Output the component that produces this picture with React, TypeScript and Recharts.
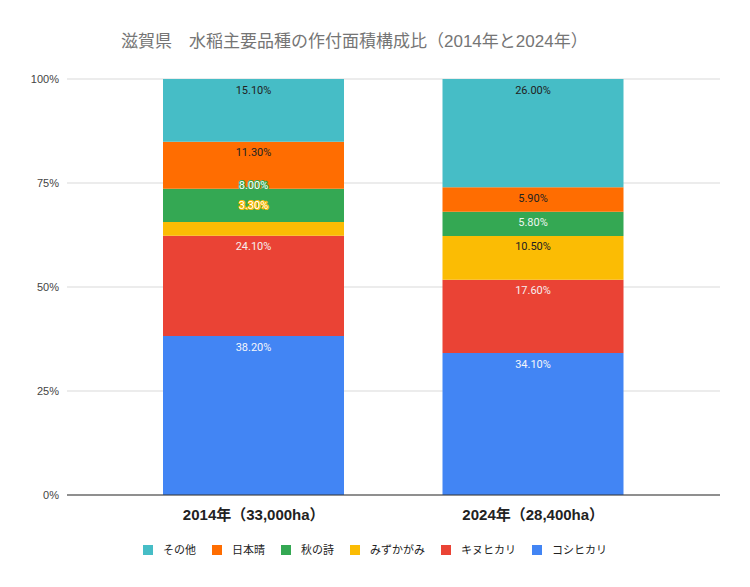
import React from 'react';
import { BarChart, Bar, XAxis, YAxis, CartesianGrid, LabelList } from 'recharts';

// 作付面積の構成比（%）
const years = ['2014年（33,000ha）', '2024年（28,400ha）'];
const koshihikari = [38.2, 34.1];
const kinuhikari = [24.1, 17.6];
const mizukagami = [3.3, 10.5];
const akinouta = [8.0, 5.8];
const nihonbare = [11.3, 5.9];
const sonota = [15.1, 26.0];
const yTicks = [0, 0.25, 0.5, 0.75, 1];

// stacked bottom -> top
const series = [
  { key: 'koshihikari', name: 'コシヒカリ', values: koshihikari, color: '#4285F4', text: '#f4f6fb' },
  { key: 'kinuhikari', name: 'キヌヒカリ', values: kinuhikari, color: '#EA4335', text: '#f6eeee' },
  { key: 'mizukagami', name: 'みずかがみ', values: mizukagami, color: '#FBBC04', text: '#222222' },
  { key: 'akinouta', name: '秋の詩', values: akinouta, color: '#34A853', text: '#eef6ef' },
  { key: 'nihonbare', name: '日本晴', values: nihonbare, color: '#FF6D01', text: '#222222' },
  { key: 'sonota', name: 'その他', values: sonota, color: '#46BDC6', text: '#222222' },
];

const data = years.map((year, i) => {
  const row: Record<string, string | number> = { year };
  series.forEach(s => {
    row[s.key] = s.values[i];
  });
  return row;
});

const FONT = '"Liberation Sans", Arial, "Noto Sans CJK JP", sans-serif';

// label placement like Sheets: near the top of each segment, pushed up when crowded
const labelPositions = (col: number, k: number, base: number) => {
  const total = series.reduce((a, s) => a + s.values[col], 0);
  let cum = 0;
  let prev: number | null = null;
  return series.map(s => {
    const frac = s.values[col] / total;
    cum += frac;
    const top = base - cum * k;
    const h = frac * k;
    let pos = h < 18 ? top - 17 : top + 11;
    if (prev !== null) pos = Math.min(pos, prev - 20);
    prev = pos;
    return { pos, shifted: Math.abs(pos - (top + 11)) > 0.5 };
  });
};

const makeLabel = (si: number) => (props: any) => {
  const vb = props.viewBox || props;
  const { x, y, width, height } = vb;
  const col = props.index;
  if (col == null || height == null) return null;
  const s = series[si];
  const total = series.reduce((a, t) => a + t.values[col], 0);
  const frac = s.values[col] / total;
  const k = height / frac;
  let below = 0;
  for (let j = 0; j < si; j++) below += series[j].values[col] / total;
  const base = y + height + below * k;
  const p = labelPositions(col, k, base)[si];
  const txt = s.values[col].toFixed(2) + '%';
  return (
    <text
      x={x + width / 2}
      y={p.pos}
      textAnchor="middle"
      dominantBaseline="central"
      fontSize={11}
      fontFamily="Roboto, sans-serif"
      fill={p.shifted ? '#ffffff' : s.text}
      stroke={p.shifted ? s.color : 'none'}
      strokeWidth={p.shifted ? 2 : 0}
      style={{ paintOrder: 'stroke' }}
    >
      {txt}
    </text>
  );
};

const XTick = (props: any) => {
  const { x, y, payload } = props;
  return (
    <text x={x} y={y + 17} textAnchor="middle" fontSize={15} fontWeight="bold" fill="#222" fontFamily={FONT}>
      {payload.value}
    </text>
  );
};

const App: React.FC = () => {
  return (
    <div style={{ position: 'absolute', left: 0, top: 0, width: 750, height: 587, background: '#fff', fontFamily: FONT }}>
      <svg width={750} height={60} style={{ position: 'absolute', left: 0, top: 0 }}>
        <text x={121} y={47} fontSize={17} fill="#757575" fontFamily={FONT}>
          滋賀県　水稲主要品種の作付面積構成比（2014年と2024年）
        </text>
      </svg>
      <div style={{ position: 'absolute', left: 0, top: 0 }}>
        <BarChart
          width={750}
          height={587}
          data={data}
          stackOffset="expand"
          margin={{ top: 79, right: 30, bottom: 62, left: 7 }}
        >
          <CartesianGrid vertical={false} stroke="#d9d9d9" />
          <XAxis
            dataKey="year"
            height={30}
            padding={{ left: 47, right: 47 }}
            tickLine={false}
            axisLine={{ stroke: '#333' }}
            tick={<XTick />}
            interval={0}
          />
          <YAxis
            width={60}
            domain={[0, 1]}
            ticks={yTicks}
            tickFormatter={(v: number) => `${Math.round(v * 100)}%`}
            axisLine={false}
            tickLine={false}
            tick={{ fontSize: 11, fill: '#444', fontFamily: FONT }}
          />
          {series.map((s, si) => (
            <Bar
              key={s.key}
              dataKey={s.key}
              name={s.name}
              stackId="a"
              fill={s.color}
              barSize={181}
              isAnimationActive={false}
            >
              <LabelList dataKey={s.key} content={makeLabel(si)} />
            </Bar>
          ))}
        </BarChart>
      </div>
      <div
        style={{
          position: 'absolute',
          left: 0,
          top: 541,
          width: 750,
          display: 'flex',
          justifyContent: 'center',
          gap: 16,
          fontSize: 11,
          color: '#222',
          lineHeight: '18px',
          fontFamily: FONT,
        }}
      >
        {[...series].reverse().map(s => (
          <div key={s.key} style={{ display: 'flex', alignItems: 'center' }}>
            <span style={{ width: 10, height: 10, background: s.color, marginRight: 10, display: 'inline-block' }} />
            <span>{s.name}</span>
          </div>
        ))}
      </div>
    </div>
  );
};

export default App;
